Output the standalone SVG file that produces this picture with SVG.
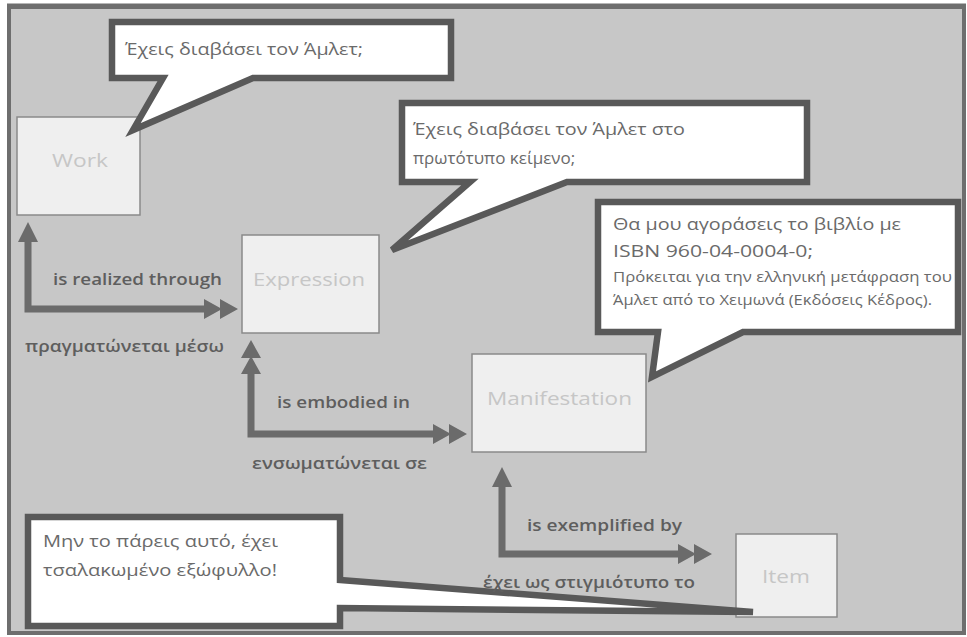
<svg xmlns="http://www.w3.org/2000/svg" width="967" height="637" viewBox="0 0 967 637">
<style>
.frame{fill:#c7c7c7;stroke:#6e6e6e;stroke-width:4}
.node rect{fill:#efefef;stroke:#8a8a8a;stroke-width:1.5}
.node text{font-family:"Open Sans","Noto Sans","DejaVu Sans",sans-serif;font-size:18px;fill:#c6c6c6}
.bubble path{fill:#ffffff;stroke:#595959;stroke-width:6.5;stroke-linejoin:miter}
.bubble text{font-family:"Open Sans","Noto Sans","DejaVu Sans",sans-serif;font-size:17px;fill:#6a6a6a}
.bubble text.small{font-size:14px}
.conn path{fill:none;stroke:#6b6b6b;stroke-width:7}
.lbl{font-family:"Open Sans","Noto Sans","DejaVu Sans",sans-serif;font-size:16px;font-weight:600;fill:#5e5e5e}
</style>
<defs>
<marker id="dbl" markerUnits="userSpaceOnUse" markerWidth="36" markerHeight="22" viewBox="0 -11 36 22" refX="1" refY="0" orient="auto-start-reverse">
<path d="M0,-10 L18,0 L0,10 Z M16,-10 L34,0 L16,10 Z" fill="#6b6b6b"/>
</marker>
<marker id="dblS" markerUnits="userSpaceOnUse" markerWidth="36" markerHeight="22" viewBox="0 -11 36 22" refX="2" refY="0" orient="auto-start-reverse">
<path d="M0,-10 L18,0 L0,10 Z M16,-10 L34,0 L16,10 Z" fill="#6b6b6b"/>
</marker>
<marker id="one" markerUnits="userSpaceOnUse" markerWidth="22" markerHeight="22" viewBox="0 -11 22 22" refX="2" refY="0" orient="auto-start-reverse">
<path d="M0,-10 L20,0 L0,10 Z" fill="#6b6b6b"/>
</marker>
</defs>
<rect x="0" y="0" width="967" height="637" fill="#ffffff"/>
<rect class="frame" x="9" y="7" width="955" height="626"/>
<line x1="7" y1="6" x2="966" y2="6" stroke="#6e6e6e" stroke-width="5"/>

<g id="work" class="node">
<rect x="17" y="117" width="123" height="98"/>
<text x="52" y="167" textLength="56" lengthAdjust="spacingAndGlyphs">Work</text>
</g>
<g id="expression" class="node">
<rect x="242" y="235" width="137" height="98"/>
<text x="253" y="286" textLength="112" lengthAdjust="spacingAndGlyphs">Expression</text>
</g>
<g id="manifestation" class="node">
<rect x="472" y="354" width="174" height="98"/>
<text x="487" y="405" textLength="145" lengthAdjust="spacingAndGlyphs">Manifestation</text>
</g>
<g id="item" class="node">
<rect x="736" y="534" width="101" height="83"/>
<text x="762" y="583" textLength="48" lengthAdjust="spacingAndGlyphs">Item</text>
</g>

<g id="connectors" class="conn">
<path d="M28,240 V309 H205" marker-start="url(#one)" marker-end="url(#dbl)"/>
<path d="M251,372 V434 H434" marker-start="url(#dblS)" marker-end="url(#dbl)"/>
<path d="M502,485 V554 H679" marker-start="url(#one)" marker-end="url(#dbl)"/>
<text class="lbl" x="53" y="285" textLength="169" lengthAdjust="spacingAndGlyphs">is realized through</text>
<text class="lbl" x="25" y="352" textLength="199" lengthAdjust="spacingAndGlyphs">πραγματώνεται  μέσω</text>
<text class="lbl" x="277" y="408" textLength="133" lengthAdjust="spacingAndGlyphs">is embodied in</text>
<text class="lbl" x="252" y="469" textLength="175" lengthAdjust="spacingAndGlyphs">ενσωματώνεται σε</text>
<text class="lbl" x="527" y="531" textLength="155" lengthAdjust="spacingAndGlyphs">is exemplified by</text>
</g>

<g id="bubble1" class="bubble">
<path d="M112,22 H451 V78 H253 L133,130 L163,78 H112 Z"/>
<text x="125" y="55" textLength="238" lengthAdjust="spacingAndGlyphs">Έχεις διαβάσει τον Άμλετ;</text>
</g>
<g id="bubble2" class="bubble">
<path d="M402,103 H807 V182 H567 L392,250 L470,182 H402 Z"/>
<text x="413" y="135" textLength="272" lengthAdjust="spacingAndGlyphs">Έχεις διαβάσει τον Άμλετ στο</text>
<text x="413" y="164">πρωτότυπο κείμενο;</text>
</g>
<g id="bubble3" class="bubble">
<path d="M598,202 H958 V332 H743 L652,377 L658,332 H598 Z"/>
<text x="613" y="230" textLength="288" lengthAdjust="spacingAndGlyphs">Θα μου αγοράσεις το βιβλίο με</text>
<text x="613" y="257" textLength="200" lengthAdjust="spacingAndGlyphs">ISBN 960-04-0004-0;</text>
<text class="small" x="613" y="282" textLength="339" lengthAdjust="spacingAndGlyphs">Πρόκειται για την ελληνική μετάφραση του</text>
<text class="small" x="613" y="305" textLength="319" lengthAdjust="spacingAndGlyphs">Άμλετ από το Χειμωνά (Εκδόσεις Κέδρος).</text>
</g>
<g id="bubble4" class="bubble">
<path d="M28,517 H340 V580 L753,612 L340,608 V626 H28 Z"/>
<text x="43" y="547" textLength="235" lengthAdjust="spacingAndGlyphs">Μην το πάρεις αυτό, έχει</text>
<text x="43" y="576" textLength="234" lengthAdjust="spacingAndGlyphs">τσαλακωμένο εξώφυλλο!</text>
</g>
<text class="lbl" x="483" y="588" textLength="212" lengthAdjust="spacingAndGlyphs">έχει ως στιγμιότυπο το</text>
</svg>
